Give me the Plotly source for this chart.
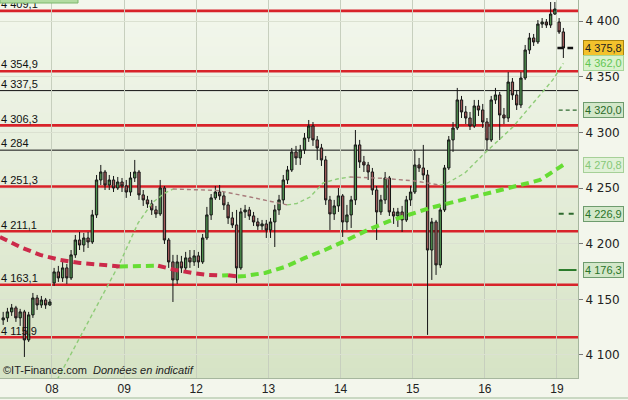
import plotly.graph_objects as go

# ---------------- data ----------------
day_labels = ["08", "09", "12", "13", "14", "15", "16", "19"]
day_start_index = [11.5, 28.5, 45.5, 62.5, 79.5, 96.5, 113.5, 130.5]

opens = [
    4131.5, 4133.3, 4138.7, 4142.3, 4133.3, 4138.7, 4113.5, 4136.0, 4151.2, 4144.9, 4149.4, 4144.9,
    4164.7, 4174.6, 4169.2, 4178.2, 4169.2, 4189.9, 4203.3, 4198.8, 4205.1, 4201.5, 4225.8, 4257.2, 4264.4, 4252.7, 4257.2, 4250.0, 4255.4,
    4251.8, 4246.4, 4259.0, 4264.4, 4243.8, 4239.3, 4235.7, 4230.3, 4226.7, 4250.0, 4203.3, 4183.6, 4167.4, 4183.6, 4178.2, 4187.2, 4183.6,
    4189.0, 4183.6, 4205.1, 4225.8, 4241.1, 4246.4, 4242.9, 4234.8, 4223.1, 4216.8, 4178.2, 4228.5, 4230.3, 4224.9, 4219.5, 4215.9, 4217.7,
    4212.3, 4219.5, 4230.3, 4239.3, 4257.2, 4266.2, 4282.4, 4277.0, 4284.2, 4294.9, 4305.7, 4293.2, 4286.0, 4275.2, 4239.3, 4226.7, 4233.9,
    4242.9, 4219.5, 4225.8, 4239.3, 4288.7, 4273.4, 4270.7, 4264.4, 4248.2, 4228.5, 4239.3, 4259.0, 4228.5, 4224.9, 4228.5, 4221.3, 4239.3,
    4246.4, 4270.7, 4268.0, 4261.7, 4194.3, 4219.5, 4180.9, 4230.3, 4268.0, 4293.2, 4303.9, 4329.1, 4318.3, 4312.9, 4305.7, 4323.7, 4320.1,
    4309.3, 4293.2, 4329.1, 4333.6, 4315.6, 4312.9, 4345.2, 4333.6, 4324.6, 4348.8, 4374.0, 4384.8, 4381.2, 4397.3, 4399.1, 4396.4, 4406.3,
    4399.1, 4390.2,
]
highs = [
    4138.7, 4142.3, 4145.8, 4144.1, 4141.4, 4140.5, 4138.7, 4155.7, 4153.9, 4153.0, 4151.2, 4150.3,
    4178.2, 4180.0, 4183.6, 4181.8, 4194.3, 4207.8, 4210.5, 4209.6, 4210.5, 4230.3, 4261.7, 4270.7, 4266.2, 4261.7, 4260.8, 4259.9, 4259.0,
    4257.2, 4264.4, 4275.2, 4266.2, 4248.2, 4242.9, 4239.3, 4233.9, 4257.2, 4251.8, 4205.1, 4189.9, 4189.9, 4189.0, 4192.6, 4194.3, 4194.3,
    4192.6, 4208.7, 4233.0, 4244.6, 4251.8, 4252.7, 4246.4, 4237.5, 4228.5, 4230.3, 4232.1, 4234.8, 4233.0, 4228.5, 4223.1, 4221.3, 4221.3,
    4223.1, 4234.8, 4243.8, 4261.7, 4269.8, 4286.0, 4287.8, 4288.7, 4299.4, 4311.1, 4309.3, 4296.7, 4289.6, 4278.8, 4242.9, 4239.3, 4250.0,
    4244.6, 4234.8, 4242.9, 4302.1, 4293.2, 4278.8, 4273.4, 4268.0, 4251.8, 4243.8, 4264.4, 4260.8, 4232.1, 4232.1, 4233.9, 4242.9, 4251.8,
    4284.2, 4277.0, 4288.7, 4266.2, 4223.1, 4221.3, 4234.8, 4270.7, 4296.7, 4309.3, 4339.9, 4332.7, 4323.7, 4318.3, 4329.1, 4329.1, 4325.5,
    4312.9, 4332.7, 4339.9, 4336.3, 4321.9, 4354.2, 4348.8, 4338.1, 4354.2, 4378.5, 4389.3, 4388.4, 4400.9, 4402.7, 4401.8, 4417.1, 4417.1,
    4402.7, 4393.8,
]
lows = [
    4127.0, 4129.7, 4135.1, 4129.7, 4126.1, 4098.2, 4111.7, 4133.3, 4140.5, 4142.3, 4141.4, 4144.1,
    4162.0, 4165.6, 4165.6, 4163.8, 4167.4, 4187.2, 4194.3, 4192.6, 4196.1, 4199.7, 4223.1, 4252.7, 4248.2, 4248.2, 4246.4, 4248.2, 4246.4,
    4241.1, 4242.9, 4255.4, 4239.3, 4233.9, 4232.1, 4225.8, 4223.1, 4224.9, 4199.7, 4178.2, 4147.6, 4163.8, 4173.7, 4174.6, 4178.2, 4180.0,
    4178.2, 4181.8, 4203.3, 4221.3, 4239.3, 4239.3, 4230.3, 4217.7, 4214.1, 4164.7, 4176.4, 4223.1, 4221.3, 4215.9, 4212.3, 4212.3, 4205.1,
    4205.1, 4197.0, 4225.8, 4235.7, 4253.6, 4264.4, 4270.7, 4270.7, 4280.6, 4291.4, 4287.8, 4275.2, 4269.8, 4234.8, 4212.3, 4221.3, 4228.5,
    4206.0, 4212.3, 4214.1, 4234.8, 4268.0, 4264.4, 4257.2, 4243.8, 4203.3, 4225.8, 4235.7, 4224.9, 4217.7, 4215.0, 4210.5, 4219.5, 4233.9,
    4244.6, 4264.4, 4257.2, 4118.0, 4167.4, 4171.9, 4178.2, 4228.5, 4266.2, 4282.4, 4302.1, 4312.9, 4307.5, 4302.1, 4303.9, 4314.7, 4303.9,
    4284.2, 4291.4, 4325.5, 4293.2, 4307.5, 4309.3, 4329.1, 4320.1, 4321.9, 4347.0, 4370.4, 4377.6, 4379.4, 4393.8, 4393.8, 4393.8, 4405.4,
    4388.4, 4366.8,
]
closes = [
    4133.3, 4138.7, 4142.3, 4133.3, 4138.7, 4113.5, 4136.0, 4151.2, 4144.9, 4149.4, 4144.9, 4147.6,
    4174.6, 4169.2, 4178.2, 4169.2, 4189.9, 4203.3, 4198.8, 4205.1, 4201.5, 4225.8, 4257.2, 4264.4, 4252.7, 4257.2, 4250.0, 4255.4, 4251.8,
    4246.4, 4259.0, 4264.4, 4243.8, 4239.3, 4235.7, 4230.3, 4226.7, 4250.0, 4203.3, 4183.6, 4167.4, 4183.6, 4178.2, 4187.2, 4183.6, 4189.0,
    4183.6, 4205.1, 4225.8, 4241.1, 4246.4, 4242.9, 4234.8, 4223.1, 4216.8, 4178.2, 4228.5, 4230.3, 4224.9, 4219.5, 4215.9, 4217.7, 4212.3,
    4219.5, 4230.3, 4239.3, 4257.2, 4266.2, 4282.4, 4277.0, 4284.2, 4294.9, 4305.7, 4293.2, 4286.0, 4275.2, 4239.3, 4226.7, 4233.9, 4242.9,
    4219.5, 4225.8, 4239.3, 4288.7, 4273.4, 4270.7, 4264.4, 4248.2, 4228.5, 4239.3, 4259.0, 4228.5, 4224.9, 4228.5, 4221.3, 4239.3, 4246.4,
    4270.7, 4268.0, 4261.7, 4194.3, 4219.5, 4180.9, 4230.3, 4268.0, 4293.2, 4303.9, 4329.1, 4318.3, 4312.9, 4305.7, 4323.7, 4320.1, 4309.3,
    4293.2, 4329.1, 4333.6, 4315.6, 4312.9, 4345.2, 4333.6, 4324.6, 4348.8, 4374.0, 4384.8, 4381.2, 4397.3, 4399.1, 4396.4, 4406.3, 4410.8,
    4390.2, 4375.8,
]

# long moving average (thick dashed)
ma_long_x = [-0.75, 4.0, 8.7, 13.4, 18.1, 22.8, 27.5, 32.7, 36.5, 40.5, 44.5, 48.3, 51.6, 53.0, 55.3, 57.0,
             61.7, 66.4, 71.1, 75.8, 80.5, 86.4, 91.1, 95.9, 100.6, 105.3, 110.0, 114.7, 119.4, 124.1, 126.5, 132.0]
ma_long_v = [4206.0, 4197.0, 4189.9, 4185.4, 4182.7, 4180.9, 4179.5, 4180.0, 4180.2, 4176.4, 4173.7, 4171.9, 4171.4, 4171.7, 4170.6, 4171.0,
             4173.7, 4179.1, 4187.2, 4194.3, 4202.4, 4213.2, 4220.4, 4226.7, 4232.1, 4236.6, 4241.1, 4245.6, 4250.0, 4254.5, 4257.2, 4270.8]

# short moving average (thin dashed)
ma_short_x = [12.7, 20.0, 27.5, 31.8, 35.1, 38.1, 40.0, 45.2, 50.4, 58.2, 63.6, 66.9, 69.2, 72.3, 75.4, 78.7, 81.7,
              85.3, 90.0, 97.0, 102.9, 104.3, 108.8, 114.0, 120.1, 124.8, 129.5, 132.0]
ma_short_v = [4077.6, 4129.7, 4182.7, 4218.6, 4236.6, 4245.5, 4249.1, 4248.7, 4247.8, 4241.9, 4237.5, 4234.8, 4236.1, 4241.9, 4254.5, 4258.1, 4259.9,
              4259.5, 4258.6, 4256.3, 4252.7, 4253.6, 4263.5, 4283.3, 4304.8, 4326.4, 4347.1, 4362.0]

red_levels = [4409.1, 4354.9, 4306.3, 4251.3, 4211.1, 4163.1, 4115.9]
black_levels = [4337.5, 4284.0]
level_labels = ["4 409,1", "4 354,9", "4 306,3", "4 251,3", "4 211,1", "4 163,1", "4 115,9", "4 337,5", "4 284"]

right_values = [4375.8, 4362.0, 4320.0, 4270.8, 4226.9, 4176.3]
right_texts = ["4 375,8", "4 362,0", "4 320,0", "4 270,8", "4 226,9", "4 176,3"]

marker_levels = [4375.8, 4320.0, 4226.9, 4176.3]

# ---------------- figure ----------------
n = len(closes)
assert len(opens) == n and len(highs) == n and len(lows) == n
xs = list(range(n))

X_MIN, X_MAX = -0.75, 135.45
Y_MIN, Y_MAX = 4079.3, 4418.9

fig = go.Figure()

# level labels (drawn under the candles)
fig.add_trace(go.Scatter(
    x=[-0.5] * len(level_labels), y=red_levels + black_levels, mode="text",
    text=level_labels, textposition="top right",
    textfont=dict(family="Liberation Sans", size=11, color="#111"),
    hoverinfo="skip", showlegend=False,
))

fig.add_trace(go.Candlestick(
    x=xs, open=opens, high=highs, low=lows, close=closes,
    increasing=dict(line=dict(color="#151515", width=1), fillcolor="#4f934f"),
    decreasing=dict(line=dict(color="#151515", width=1), fillcolor="#a15a5a"),
    whiskerwidth=0, showlegend=False, hoverinfo="skip",
))


def add_ma(xv, vv, up_color, down_color, width, dash):
    runs = []
    for i in range(len(xv) - 1):
        c = up_color if vv[i + 1] >= vv[i] else down_color
        if runs and runs[-1][0] == c:
            runs[-1][1].append(i + 1)
        else:
            runs.append([c, [i, i + 1]])
    for c, idx in runs:
        fig.add_trace(go.Scatter(
            x=[xv[i] for i in idx], y=[vv[i] for i in idx], mode="lines",
            line=dict(color=c, width=width, dash=dash),
            hoverinfo="skip", showlegend=False,
        ))


add_ma(ma_short_x, ma_short_v, "#8fcc78", "#a87c7c", 1.4, "4px,3px")
add_ma(ma_long_x, ma_long_v, "#66dd33", "#cc2a4a", 4, "8px,5px")

# right-hand short level markers
marker_styles = [
    dict(color="#111111", width=2.5, dash="6px,4px"),
    dict(color="#2f6a2f", width=1.2, dash="4px,3px"),
    dict(color="#2f6a2f", width=2, dash="5px,5px"),
    dict(color="#2a7a2a", width=2, dash="solid"),
]
marker_spans = [(130.6, 134.3), (130.9, 135.3), (130.9, 134.6), (130.9, 135.1)]
for lv, st, sp in zip(marker_levels, marker_styles, marker_spans):
    fig.add_trace(go.Scatter(x=list(sp), y=[lv, lv], mode="lines", line=st,
                             hoverinfo="skip", showlegend=False, cliponaxis=False))

shapes = []
# background gradient
top_rgb = (243, 247, 237)
bot_rgb = (214, 227, 197)
nb = 40
for i in range(nb):
    t = (i + 0.5) / nb
    c = tuple(round(top_rgb[j] + (bot_rgb[j] - top_rgb[j]) * t) for j in range(3))
    shapes.append(dict(type="rect", xref="paper", yref="paper", x0=0, x1=1,
                       y0=1 - (i + 1) / nb, y1=1 - i / nb + 0.002,
                       fillcolor="rgb(%d,%d,%d)" % c, line=dict(width=0), layer="below"))
for lv in red_levels:
    shapes.append(dict(type="line", xref="paper", yref="y", x0=0, x1=1, y0=lv, y1=lv,
                       line=dict(color="#d8232a", width=2.6), layer="between"))
for lv in black_levels:
    shapes.append(dict(type="line", xref="paper", yref="y", x0=0, x1=1, y0=lv, y1=lv,
                       line=dict(color="#111111", width=1), layer="between"))
# top-left green tab
shapes.append(dict(type="rect", xref="paper", yref="paper", x0=0, x1=78 / 578, y0=1 - 3 / 378, y1=1.02,
                   fillcolor="#b2dca2", line=dict(color="#7db86c", width=1), layer="above"))
# bottom rule
shapes.append(dict(type="line", xref="paper", yref="paper", x0=0, x1=628 / 578,
                   y0=-20 / 378, y1=-20 / 378, line=dict(color="#9fba98", width=1)))

annotations = [dict(
    xref="paper", yref="paper", x=0, y=0, xanchor="left", yanchor="bottom", xshift=1, yshift=0,
    text="©IT-Finance.com  <i>Données en indicatif</i>", showarrow=False,
    font=dict(family="Liberation Sans", size=11, color="#222222"),
)]
box_styles = [
    ("#f3c22c", "#a8840e", "#222222"),
    ("#d9f2cd", "#a6d698", "#63c653"),
    ("#d3e7c9", "#6e9c6e", "#2a6a2a"),
    ("#e0f1d7", "#a6d098", "#86c877"),
    ("#d3e7c9", "#6e9c6e", "#2a742a"),
    ("#d3e7c9", "#6e9c6e", "#2a742a"),
]
for v, t, (bg, bd, fc) in zip(right_values, right_texts, box_styles):
    annotations.append(dict(
        xref="paper", yref="y", x=1, y=v, xanchor="left", yanchor="middle", xshift=5,
        text=t, showarrow=False, bgcolor=bg, bordercolor=bd, borderwidth=1, borderpad=1,
        font=dict(family="Liberation Sans", size=11, color=fc),
    ))

fig.update_layout(
    width=628, height=400,
    margin=dict(l=0, r=50, t=0, b=22),
    paper_bgcolor="#f3f6ec", plot_bgcolor="rgba(0,0,0,0)",
    separators=", ", boxgap=0.22,
    font=dict(family="Liberation Sans", size=11, color="#222222"),
    shapes=shapes, annotations=annotations, showlegend=False,
    xaxis=dict(
        range=[X_MIN, X_MAX], tickmode="array", tickvals=day_start_index, ticktext=day_labels,
        showgrid=True, gridcolor="#c7cfbe", gridwidth=1, zeroline=False,
        showline=True, linecolor="#a6b69e", ticks="", tickfont=dict(size=12, color="#222222"),
        rangeslider=dict(visible=False), fixedrange=True,
    ),
    yaxis=dict(
        side="right", range=[Y_MIN, Y_MAX], tick0=4100, dtick=50, separatethousands=True,
        showgrid=True, gridcolor="#dbe1d1", gridwidth=1, zeroline=False,
        showline=True, linecolor="#a6b69e", ticks="outside", ticklen=4, tickcolor="#777777",
        tickfont=dict(family="DejaVu Sans", size=12, color="#222222"), fixedrange=True,
    ),
)

fig.write_html("out.html", config={"displayModeBar": False},
               post_script="document.body.style.margin='0';document.body.style.overflow='hidden';")
